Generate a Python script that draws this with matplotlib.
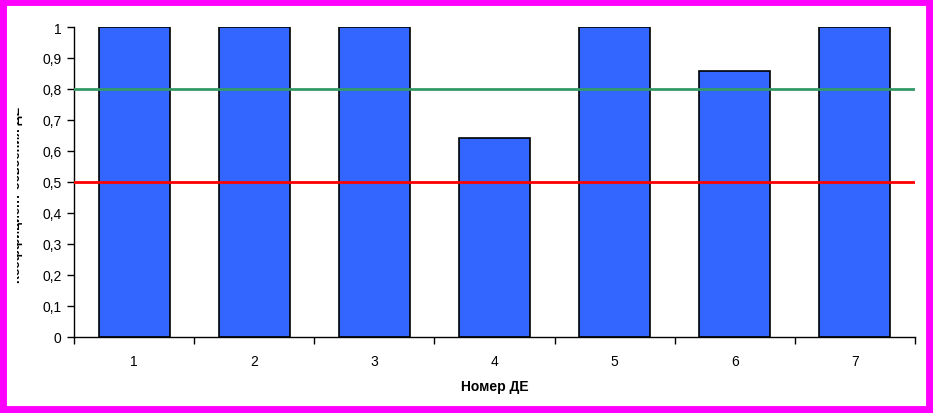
import matplotlib.pyplot as plt
from matplotlib.patches import Rectangle
from matplotlib.transforms import Bbox
from matplotlib.ticker import FixedLocator, NullFormatter

plt.rcParams['font.family'] = ['Liberation Sans', 'DejaVu Sans']

categories = ["1", "2", "3", "4", "5", "6", "7"]
values = [1.0, 1.0, 1.0, 0.643, 1.0, 0.857, 1.0]
level_high = 0.8
level_low = 0.5
y_ticks = [0, 0.1, 0.2, 0.3, 0.4, 0.5, 0.6, 0.7, 0.8, 0.9, 1.0]
y_labels = ["0", "0,1", "0,2", "0,3", "0,4", "0,5", "0,6", "0,7", "0,8", "0,9", "1"]

fig = plt.figure(figsize=(9.33, 4.14), dpi=100)
W, H = 933, 414
ax = fig.add_axes([74 / W, (H - 338) / H, (915 - 74) / W, (338 - 28) / H])

x = list(range(1, len(categories) + 1))
ax.bar(x, values, width=0.59, color="#3366FF", edgecolor="black", linewidth=1.2, zorder=2)
ax.axhline(level_high, color="#339966", linewidth=2, zorder=3)
ax.axhline(level_low, color="#FF0000", linewidth=2, zorder=3)

ax.set_xlim(0.5, len(categories) + 0.5)
ax.set_ylim(0, 1)
ax.set_yticks(y_ticks)
ax.set_yticklabels(y_labels, fontsize=10)
ax.xaxis.set_major_locator(FixedLocator([i + 0.5 for i in range(0, len(categories) + 1)]))
ax.xaxis.set_major_formatter(NullFormatter())
ax.set_xticks(x, minor=True)
ax.set_xticklabels(categories, minor=True, fontsize=10)
ax.tick_params(axis="x", which="minor", length=0, pad=12)
ax.tick_params(axis="x", which="major", length=5, direction="out", width=1)
ax.tick_params(axis="y", length=5, direction="out", width=1, pad=4)

for s in ["top", "right"]:
    ax.spines[s].set_visible(False)
for s in ["left", "bottom"]:
    ax.spines[s].set_linewidth(1)

ax.set_xlabel("Номер ДЕ", fontsize=10, fontweight="bold", labelpad=8)

# y label is cut off on its left side in the original
ylab = fig.text(23 / W, (H - 195) / H, "Коэффициент освоения ДЕ", rotation=90,
                fontsize=9.3, fontweight="bold", ha="right", va="center")
ylab.set_clip_box(Bbox([[17, 0], [W, H]]))
ylab.set_clip_on(True)

# magenta frame
fig.patches.append(Rectangle((0, 0), 1, 1, transform=fig.transFigure, fill=False,
                             edgecolor="#FF00FF", linewidth=10, zorder=10))

fig.savefig("out.png", dpi=100, facecolor="white")
